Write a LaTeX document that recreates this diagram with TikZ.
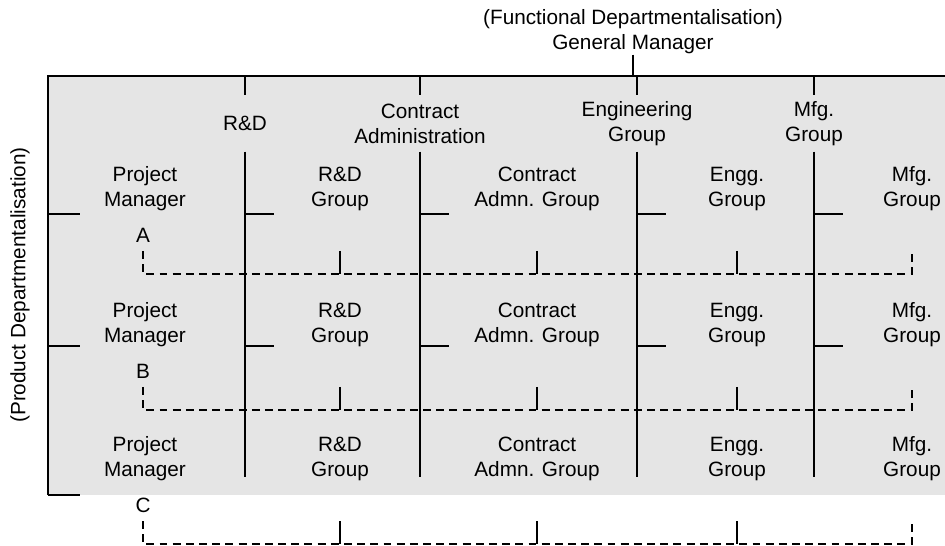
\documentclass[tikz,border=0pt]{standalone}
\usepackage{fontspec}
\newfontfamily\orgfont{Liberation Sans}
\usetikzlibrary{calc, positioning}

\tikzset{
	head/.style={align=center, inner sep=0pt, minimum height=1.1cm},
	cell/.style={align=center, inner sep=0pt},
	link/.style={dash pattern=on 4.5pt off 3pt},
}

\begin{document}
\begin{tikzpicture}[x=0.02cm, y=-0.02cm, font=\orgfont\fontsize{11.8}{14.2}\selectfont, line width=0.65pt]
	\useasboundingbox (0,0) rectangle (945,546);
	\coordinate (TL) at (48,76);
	\coordinate (BL) at (48,495);
	\def\Bot{477}

	% matrix frame
	\fill[gray!20] (TL) rectangle (945,495);
	\draw[line width=0.8pt] (BL) -- (TL) -- (945,76);
	\draw (BL) --++ (32,0);

	% functional side
	\node[cell] (gm) at (633,32) {(Functional Departmentalisation)\\General Manager};
	\draw (gm.south) -- (gm.south |- TL);
	\foreach \name/\x/\txt in {rd/245/R\&D, ca/420/{Contract\\Administration}, eg/637/{Engineering\\Group}, mg/814/{Mfg.\\Group}}{
		\node[head] (\name) at (\x,123.5) {\txt};
		\draw (\name |- TL) -- (\name.north);
		\draw (\name.south) -- (\x,\Bot);
	}

	% product side
	\node[rotate=90] (pd) at (20,285) {(Product Departmentalisation)};
	\foreach \r/\y in {A/189, B/325, C/459}{
		\node[cell] (pm\r) at (145,\y) {Project\\Manager};
		\node[cell] (rd\r) at (340,\y) {R\&D\\Group};
		\node[cell] (ca\r) at (537,\y) {Contract\\Admn. Group};
		\node[cell] (eg\r) at (737,\y) {Engg.\\Group};
		\node[cell] (mg\r) at (912,\y) {Mfg.\\Group};
		\node[inner sep=0pt] (l\r) at (143,\y+46) {\r};
		\coordinate (t\r) at ($(l\r)+(0,16)$);
		\coordinate (d\r) at ($(t\r)+(0,23)$);
		\draw[link] (t\r) -- (d\r) -- (d\r -| mg\r) -- (t\r -| mg\r);
		\foreach \c in {rd,ca,eg}
			\draw (t\r -| \c\r) -- (d\r -| \c\r);
	}
	\foreach \s in {214,346}{
		\draw (TL |- 0,\s) --++ (32,0);
		\foreach \c in {rd,ca,eg,mg}
			\draw (\c |- 0,\s) --++ (29,0);
	}

\end{tikzpicture}
\end{document}
